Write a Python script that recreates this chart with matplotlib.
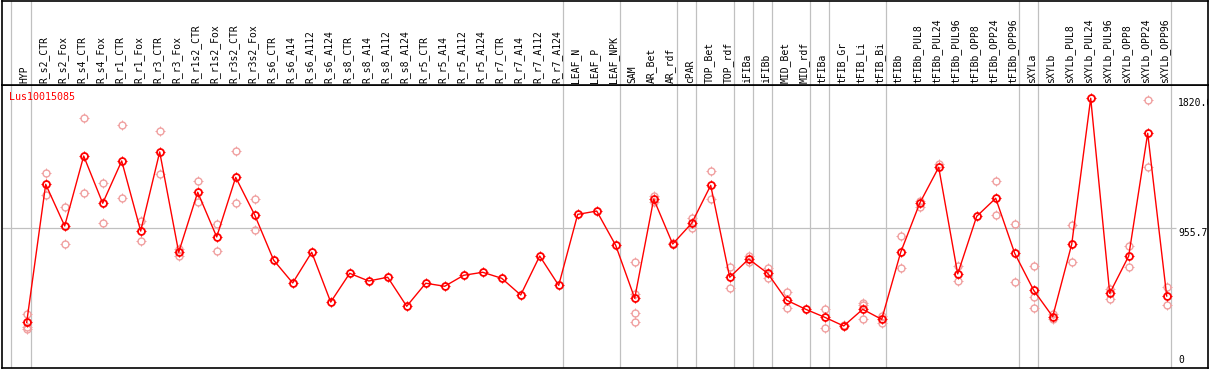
import numpy as np
import matplotlib
matplotlib.use("Agg")
import matplotlib.pyplot as plt
from matplotlib.path import Path

# Sample names (one column each)
samples = ["HYP", "R_s2_CTR", "R_s2_Fox", "R_s4_CTR", "R_s4_Fox", "R_r1_CTR", "R_r1_Fox",
           "R_r3_CTR", "R_r3_Fox", "R_r1s2_CTR", "R_r1s2_Fox", "R_r3s2_CTR", "R_r3s2_Fox",
           "R_s6_CTR", "R_s6_A14", "R_s6_A112", "R_s6_A124", "R_s8_CTR", "R_s8_A14",
           "R_s8_A112", "R_s8_A124", "R_r5_CTR", "R_r5_A14", "R_r5_A112", "R_r5_A124",
           "R_r7_CTR", "R_r7_A14", "R_r7_A112", "R_r7_A124", "LEAF_N", "LEAF_P", "LEAF_NPK",
           "SAM", "AR_Bet", "AR_rdf", "cPAR", "TOP_Bet", "TOP_rdf", "iFIBa", "iFIBb",
           "MID_Bet", "MID_rdf", "tFIBa", "tFIB_Gr", "tFIB_Li", "tFIB_Bi", "tFIBb",
           "tFIBb_PUL8", "tFIBb_PUL24", "tFIBb_PUL96", "tFIBb_OPP8", "tFIBb_OPP24",
           "tFIBb_OPP96", "sXYLa", "sXYLb", "sXYLb_PUL8", "sXYLb_PUL24", "sXYLb_PUL96",
           "sXYLb_OPP8", "sXYLb_OPP24", "sXYLb_OPP96"]

# Mean expression per sample
means = [330, 1248, 971, 1436, 1122, 1403, 937, 1463, 796, 1195, 898, 1294, 1044,
         743, 592, 796, 465, 656, 605, 630, 437, 590, 570, 643, 663, 623, 512, 771, 576,
         1048, 1070, 842, 490, 1150, 851, 989, 1241, 630, 751, 656, 477, 417, 364, 306,
         417, 350, 796, 1122, 1361, 652, 1035, 1155, 789, 543, 368, 849, 1820, 523, 771,
         1587, 505]

# Individual replicates: (sample index, value)
rep_idx = [0, 0, 0, 1, 1, 2, 2, 3, 3, 4, 4, 5, 5, 6, 6, 7, 7, 8, 8, 9, 9, 10, 10,
           11, 11, 12, 12, 32, 32, 32, 32, 33, 33, 34, 35, 35, 36, 36, 37, 37, 38, 38,
           39, 39, 40, 40, 42, 42, 43, 44, 44, 44, 45, 45, 46, 46, 47, 47, 48, 49, 49,
           51, 51, 52, 52, 53, 53, 53, 54, 54, 55, 55, 57, 57, 58, 58, 59, 59, 60, 60]
rep_val = [386, 297, 288, 1321, 1177, 1097, 849, 1687, 1188, 1255, 989, 1642, 1155,
           1006, 869, 1600, 1316, 818, 773, 1270, 1128, 982, 802, 1469, 1122, 1148, 942,
           733, 519, 390, 330, 1170, 1128, 856, 1022, 955, 1334, 1152, 700, 556, 773, 733,
           689, 623, 530, 427, 417, 291, 310, 457, 443, 350, 372, 328, 904, 689, 1137,
           1099, 1383, 705, 603, 1270, 1042, 982, 598, 705, 497, 424, 384, 354, 977, 729,
           552, 485, 838, 696, 1808, 1361, 563, 445]

gene = "Lus10015085"
mid_value = 955.7

# group separators, in column units
separators = [-0.84, 0.21, 28.21, 31.21, 34.21, 35.21, 37.21, 38.21, 39.21, 41.21,
              42.21, 45.21, 52.21, 53.21, 60.21]

# small ticks around the circle markers
ticks = Path([(0, 0.75), (0, 1.25), (0, -0.75), (0, -1.25),
              (0.75, 0), (1.25, 0), (-0.75, 0), (-1.25, 0)],
             [Path.MOVETO, Path.LINETO] * 4)

W, H = 1209, 370
fig = plt.figure(figsize=(W / 100, H / 100), dpi=100)
mono = "DejaVu Sans Mono"
grey = "#c0c0c0"
xlim = (-1.326, 62.147)

ax = fig.add_axes([1.5 / W, 2 / H, 1206 / W, 283 / H])
top = fig.add_axes([1.5 / W, 285 / H, 1206 / W, 84.5 / H])

x = np.arange(len(samples))
for a in (ax, top):
    a.set_xlim(*xlim)
    a.set_xticks([]); a.set_yticks([])
    for s in a.spines.values():
        s.set_color("black"); s.set_linewidth(1.2)
    for sx in separators:
        a.axvline(sx, color=grey, lw=0.9, zorder=0)

ax.set_ylim(26.6, 1908)
ax.hlines(mid_value, xlim[0], 60.5, color=grey, lw=0.9, zorder=0)

top.set_ylim(0, 1)
for i, name in enumerate(samples):
    top.text(i - 0.1, 0.02, name, rotation=90, ha="center", va="bottom",
             family=mono, fontsize=7)

# replicates
rep_col = "#f0a0a0"
ax.plot(rep_idx, rep_val, ls="none", marker="o", ms=5, mfc="none", mec=rep_col, mew=1.0, zorder=2)
ax.plot(rep_idx, rep_val, ls="none", marker=ticks, ms=7, mec=rep_col, mew=0.7, zorder=2)

# means
ax.plot(x, means, color="red", lw=1.0, zorder=3)
ax.plot(x, means, ls="none", marker="o", ms=5, mfc="none", mec="red", mew=1.3, zorder=4)
ax.plot(x, means, ls="none", marker=ticks, ms=7, mec="red", mew=0.8, zorder=4)

ax.text(7.8 / 1206, 0.975, gene, transform=ax.transAxes, color="red", family=mono,
        fontsize=7.2, ha="left", va="top")

ymax = max(means)
ax.text(60.59, ymax, f"{ymax:.1f}", family=mono, fontsize=7, ha="left", va="top", clip_on=True)
ax.text(60.59, mid_value, f"{mid_value}", family=mono, fontsize=7, ha="left", va="top", clip_on=True)
ax.text(60.59, 0.012, "0", transform=ax.get_xaxis_transform(), family=mono, fontsize=7,
        ha="left", va="bottom")

fig.savefig("out.png", dpi=100)
